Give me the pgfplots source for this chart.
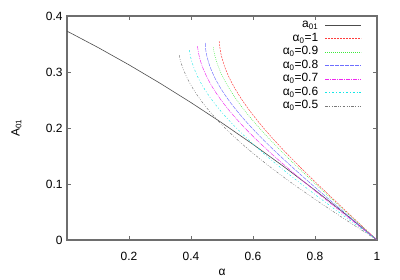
\documentclass[border=0pt]{standalone}
\usepackage{fontspec}
\setmainfont{Liberation Sans}
\usepackage{pgfplots}
\pgfplotsset{compat=1.18}
\definecolor{axgray}{RGB}{110,110,110}
\definecolor{cred}{RGB}{255,60,60}
\definecolor{cgreen}{RGB}{60,235,60}
\definecolor{cblue}{RGB}{110,110,255}
\definecolor{cmag}{RGB}{240,40,240}
\definecolor{ccyan}{RGB}{20,230,230}
\definecolor{cgrey}{RGB}{120,120,120}
\begin{document}
\begin{tikzpicture}[x=1bp,y=1bp]
\path[use as bounding box] (0,0) rectangle (400,280);
\begin{axis}[
  scale only axis,
  width=310bp, height=224bp,
  at={(67bp,40bp)}, anchor=south west,
  xmin=0, xmax=1, ymin=0, ymax=0.4,
  xtick={0.2,0.4,0.6,0.8,1},
  ytick={0,0.1,0.2,0.3,0.4},
  tick align=inside,
  major tick length=4bp,
  axis line style={axgray, line width=1.2bp},
  tick style={axgray, line width=0.8bp},
  /pgf/number format/assume math mode=true,
  ticklabel style={font=\fontsize{12}{14}\selectfont},
  xticklabel style={yshift=-9bp},
  yticklabel style={xshift=-1bp},
  xlabel={α}, ylabel={A\textsubscript{01}},
  label style={font=\fontsize{12}{14}\selectfont},
  xlabel style={at={(axis description cs:0.5,0)}, anchor=north, yshift=-26bp},
  ylabel style={at={(axis description cs:0,0.5)}, yshift=42bp},
  legend style={draw=none, fill=none, at={(axis description cs:0.9516,0.993)}, anchor=north east,
    font=\fontsize{12}{14}\selectfont, row sep=-1bp, inner sep=0pt, column sep=6bp,
    nodes={inner sep=1bp, text height=9bp, text depth=3.5bp}},
  legend cell align=right,
  legend plot pos=right,
  legend image code/.code={\draw[#1] (0bp,0bp) -- (36bp,0bp);},
]
\addplot[black!70, line width=0.6bp] coordinates {
(0,0.373) (0.1,0.3438) (0.2,0.3128) (0.3,0.2800) (0.4,0.2454) (0.5,0.2090)
(0.6,0.1708) (0.7,0.1308) (0.8,0.0890) (0.9,0.0454) (1,0)};
\addlegendentry{a\textsubscript{01}}
\addplot[cred, line width=0.45bp, dash pattern=on 2bp off 1bp, smooth] coordinates {
(0.491,0.355) (0.4928,0.345) (0.4976,0.33) (0.5082,0.31) (0.5233,0.29) (0.5423,0.27)
(0.5649,0.25) (0.5906,0.23) (0.6190,0.21) (0.6497,0.19) (0.6824,0.17) (0.7167,0.15)
(0.7706,0.12) (0.8266,0.09) (0.8839,0.06) (0.9418,0.03) (1,0)};
\addlegendentry{α\textsubscript{0}=1}
\addplot[cgreen, line width=0.45bp, dash pattern=on 0.8bp off 1.2bp, smooth] coordinates {
(0.472,0.344) (0.4746,0.335) (0.4816,0.32) (0.4951,0.30) (0.5132,0.28) (0.5352,0.26)
(0.5607,0.24) (0.5893,0.22) (0.6204,0.20) (0.6537,0.18) (0.6887,0.16) (0.7440,0.13)
(0.8015,0.10) (0.8603,0.07) (0.93,0.035) (1,0)};
\addlegendentry{α\textsubscript{0}=0.9}
\addplot[cblue, line width=0.45bp, dash pattern=on 4bp off 1bp, smooth] coordinates {
(0.446,0.352) (0.4468,0.343) (0.4505,0.33) (0.4610,0.31) (0.4766,0.29) (0.4968,0.27)
(0.5211,0.25) (0.5490,0.23) (0.5800,0.21) (0.6137,0.19) (0.6497,0.17) (0.6875,0.15)
(0.7469,0.12) (0.8087,0.09) (0.8719,0.06) (0.9358,0.03) (1,0)};
\addlegendentry{α\textsubscript{0}=0.8}
\addplot[cmag, line width=0.45bp, dash pattern=on 4bp off 1bp on 1bp off 1bp, smooth] coordinates {
(0.421,0.346) (0.4233,0.337) (0.4279,0.325) (0.4364,0.31) (0.4521,0.29) (0.4724,0.27)
(0.4969,0.25) (0.5251,0.23) (0.5567,0.21) (0.5913,0.19) (0.6284,0.17) (0.6677,0.15)
(0.7299,0.12) (0.7952,0.09) (0.8626,0.06) (0.931,0.03) (1,0)};
\addlegendentry{α\textsubscript{0}=0.7}
\addplot[ccyan, line width=0.45bp, dash pattern=on 2bp off 2bp on 0.8bp off 2bp, smooth] coordinates {
(0.395,0.339) (0.3976,0.33) (0.4019,0.32) (0.4146,0.30) (0.4324,0.28) (0.4548,0.26)
(0.4815,0.24) (0.5121,0.22) (0.5462,0.20) (0.5833,0.18) (0.6232,0.16) (0.6655,0.14)
(0.7098,0.12) (0.7793,0.09) (0.8515,0.06) (0.9254,0.03) (1,0)};
\addlegendentry{α\textsubscript{0}=0.6}
\addplot[cgrey, line width=0.45bp, dash pattern=on 2.5bp off 1.5bp on 0.8bp off 1.5bp on 0.8bp off 1.5bp, smooth] coordinates {
(0.362,0.330) (0.3652,0.322) (0.3718,0.31) (0.3869,0.29) (0.4067,0.27) (0.4311,0.25)
(0.4596,0.23) (0.4921,0.21) (0.5284,0.19) (0.5680,0.17) (0.6108,0.15) (0.6564,0.13)
(0.7045,0.11) (0.7549,0.09) (0.8339,0.06) (0.9161,0.03) (1,0)};
\addlegendentry{α\textsubscript{0}=0.5}
\end{axis}
\end{tikzpicture}
\end{document}
